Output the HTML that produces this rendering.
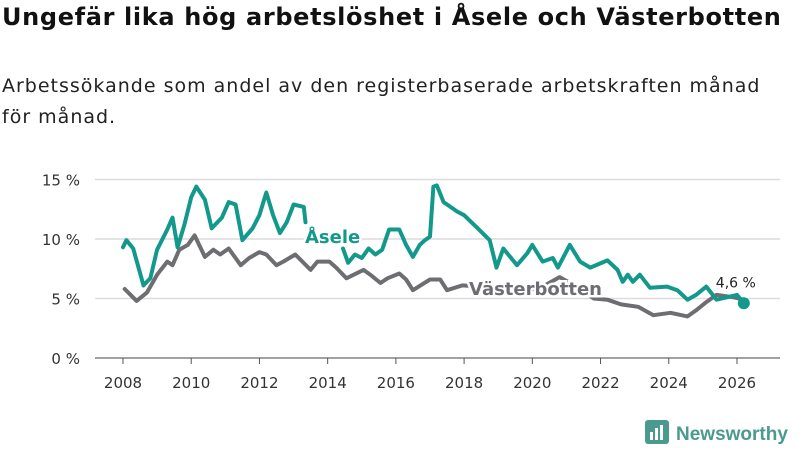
<!DOCTYPE html>
<html><head><meta charset="utf-8"><style>
body{margin:0;width:800px;height:450px;background:#fff;font-family:"DejaVu Sans","Liberation Sans",sans-serif;overflow:hidden;position:relative}
#title{position:absolute;left:2px;top:3px;font-size:24px;font-weight:bold;color:#111;margin:0;white-space:nowrap;letter-spacing:0.65px}
#sub{position:absolute;left:2px;top:71px;font-size:19px;color:#222;line-height:31px;width:790px;letter-spacing:1px}
svg{position:absolute;left:0;top:0;font-family:"DejaVu Sans","Liberation Sans",sans-serif}
</style></head><body>
<h1 id="title">Ungefär lika hög arbetslöshet i Åsele och Västerbotten</h1>
<div id="sub">Arbetssökande som andel av den registerbaserade arbetskraften månad för månad.</div>
<svg id="chart" width="800" height="450"></svg>
<script>
const yTicks=[0,5,10,15];
const xTicks=[2008,2010,2012,2014,2016,2018,2020,2022,2024,2026];
const aseleYears=[2008.0,2008.1,2008.3,2008.6,2008.8,2009.0,2009.3,2009.45,2009.6,2009.8,2010.0,2010.15,2010.4,2010.6,2010.9,2011.1,2011.3,2011.5,2011.8,2012.0,2012.2,2012.4,2012.6,2012.8,2013.0,2013.3,2013.35];
const aseleVals=[9.3,9.9,9.2,6.1,6.7,9.1,10.8,11.8,9.3,11.2,13.5,14.4,13.3,10.9,11.8,13.1,12.9,9.9,10.9,12.0,13.9,12.0,10.5,11.4,12.9,12.7,11.4];
const aseleYears2=[2014.45,2014.6,2014.8,2015.0,2015.2,2015.4,2015.6,2015.8,2016.1,2016.3,2016.5,2016.7,2016.85,2017.0,2017.1,2017.2,2017.4,2017.6,2017.8,2018.0,2018.4,2018.75,2018.95,2019.15,2019.55,2019.85,2020.0,2020.3,2020.6,2020.75,2021.1,2021.4,2021.7,2022.2,2022.5,2022.65,2022.8,2022.95,2023.15,2023.45,2023.95,2024.25,2024.55,2024.8,2025.1,2025.4,2025.7,2026.0,2026.2];
const aseleVals2=[9.2,8.0,8.7,8.4,9.2,8.7,9.1,10.8,10.8,9.5,8.5,9.5,9.9,10.2,14.4,14.5,13.1,12.7,12.3,12.0,10.9,9.9,7.6,9.2,7.8,8.8,9.5,8.1,8.4,7.6,9.5,8.1,7.6,8.2,7.4,6.4,7.0,6.4,7.0,5.9,6.0,5.7,4.9,5.3,6.0,4.9,5.1,5.3,4.6];
const vbYears=[2008.05,2008.4,2008.7,2009.0,2009.3,2009.45,2009.65,2009.9,2010.1,2010.4,2010.65,2010.85,2011.1,2011.45,2011.7,2012.0,2012.2,2012.5,2012.7,2013.05,2013.5,2013.7,2014.05,2014.25,2014.55,2015.05,2015.25,2015.55,2015.75,2016.1,2016.3,2016.5,2017.0,2017.3,2017.5,2017.95,2018.5,2019.2,2019.8,2020.3,2020.8,2021.3,2021.8,2022.2,2022.6,2023.1,2023.55,2024.05,2024.55,2024.8,2025.1,2025.4,2025.9,2026.2];
const vbVals=[5.8,4.8,5.5,7.0,8.1,7.8,9.1,9.5,10.3,8.5,9.1,8.7,9.2,7.8,8.4,8.9,8.7,7.8,8.1,8.7,7.4,8.1,8.1,7.6,6.7,7.4,7.0,6.3,6.7,7.1,6.6,5.7,6.6,6.6,5.7,6.1,6.0,5.5,5.6,6.0,6.8,6.0,5.0,4.9,4.5,4.3,3.6,3.8,3.5,4.0,4.7,5.3,5.1,4.9];
const NS='http://www.w3.org/2000/svg';
const svg=document.getElementById('chart');
const X=y=>123+(y-2008)*34.11;
const Y=v=>358-v*11.9;
function mk(t,a){const e=document.createElementNS(NS,t);for(const k in a)e.setAttribute(k,a[k]);svg.appendChild(e);return e;}
yTicks.forEach(t=>{
  const g=mk('line',{x1:95,x2:780,y1:Y(t),y2:Y(t),stroke:'#dcdcdc','stroke-width':1.5});
  
  
  const l=mk('text',{x:80,y:Y(t)+6,'text-anchor':'end','font-size':15,fill:'#333'});
  l.textContent=t+' %';
  
  
});
xTicks.forEach(t=>{
  const k=mk('line',{x1:X(t),x2:X(t),y1:358,y2:364,stroke:'#555','stroke-width':1});
  
  
  const l=mk('text',{x:X(t),y:388,'text-anchor':'middle','font-size':15,fill:'#333'});
  l.textContent=t;
  
  
});
const ax=mk('line',{x1:95,x2:780,y1:358,y2:358,stroke:'#555','stroke-width':1});


function path(xs,vs,col,name){
  const d=xs.map((x,i)=>(i?'L':'M')+X(x).toFixed(1)+','+Y(vs[i]).toFixed(1)).join('');
  const p=mk('path',{d:d,fill:'none',stroke:col,'stroke-width':4,'stroke-linejoin':'round','stroke-linecap':'round'});
  
  
}
path(vbYears,vbVals,'#6e6d72','vasterbotten-line');
path(aseleYears,aseleVals,'#12998c','asele-line');
path(aseleYears2,aseleVals2,'#12998c','asele-line-2');
const last=aseleYears2.length-1;
const dot=mk('circle',{cx:X(aseleYears2[last]),cy:Y(aseleVals2[last]),r:6,fill:'#12998c'});


const vl=mk('text',{x:X(aseleYears2[last])-8,y:Y(aseleVals2[last])-16,'text-anchor':'middle','font-size':14,fill:'#222',stroke:'#fff','stroke-width':4,'paint-order':'stroke'});
vl.textContent=String(aseleVals2[last]).replace('.',',')+' %';


const la=mk('text',{x:305,y:243,'font-size':18,'font-weight':'bold',fill:'#12998c',stroke:'#fff','stroke-width':5,'paint-order':'stroke'});
la.textContent='Åsele';


const lv=mk('text',{x:469,y:295,'font-size':18,'font-weight':'bold',fill:'#6e6d72',stroke:'#fff','stroke-width':5,'paint-order':'stroke'});
lv.textContent='Västerbotten';


const logo=mk('g',{});


logo.innerHTML='<rect x="645" y="420" width="24" height="24" rx="3" fill="#4a9a8e"/><rect x="650" y="432" width="3" height="8" fill="#fff"/><rect x="655" y="428" width="3" height="12" fill="#fff"/><rect x="660" y="425" width="3" height="15" fill="#fff"/><text x="676" y="440" font-size="19" font-weight="bold" fill="#4a9a8e" font-family="Liberation Sans, sans-serif">Newsworthy</text>';
</script>
</body></html>
